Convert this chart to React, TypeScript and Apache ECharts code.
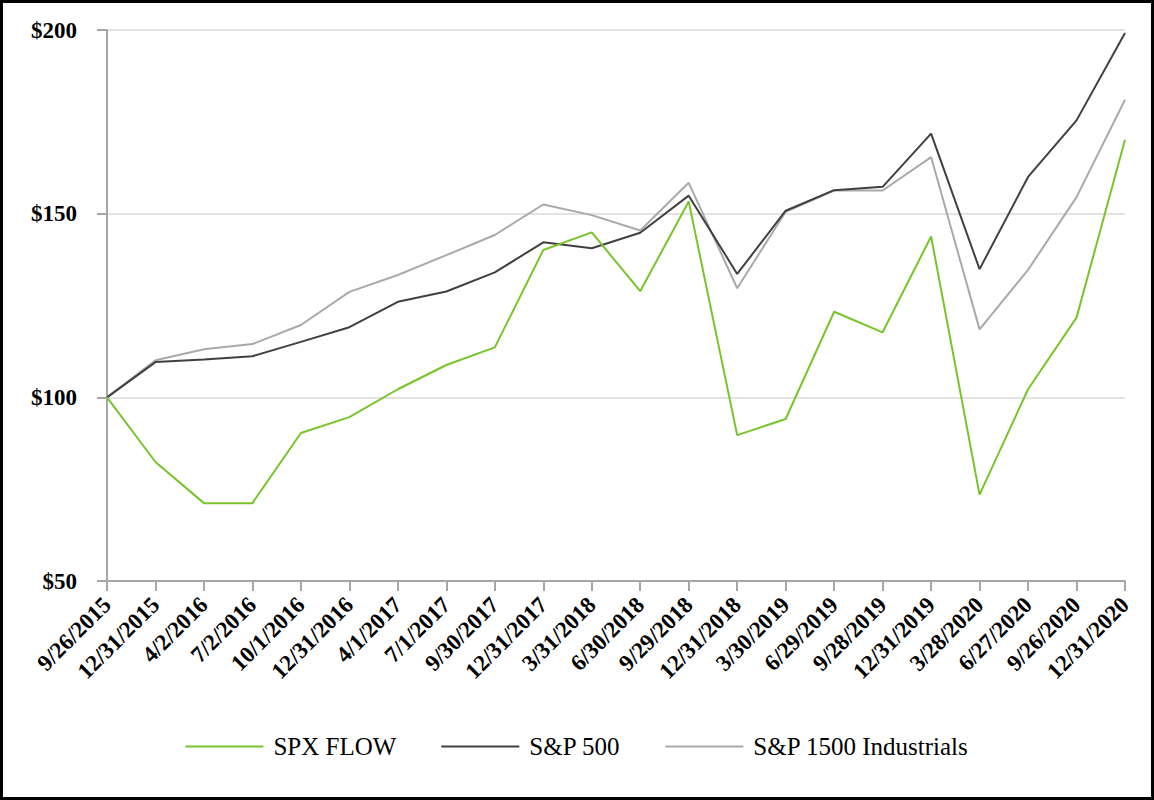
import React, { useEffect, useRef } from "react";
import * as echarts from "echarts";

const categories = [
  "9/26/2015", "12/31/2015", "4/2/2016", "7/2/2016", "10/1/2016", "12/31/2016",
  "4/1/2017", "7/1/2017", "9/30/2017", "12/31/2017", "3/31/2018", "6/30/2018",
  "9/29/2018", "12/31/2018", "3/30/2019", "6/29/2019", "9/28/2019", "12/31/2019",
  "3/28/2020", "6/27/2020", "9/26/2020", "12/31/2020",
];

const spxFlow = [
  100, 82.4, 71.2, 71.2, 90.3, 94.6, 102.2, 108.8, 113.6, 140.1, 144.9, 128.9,
  153.3, 89.7, 94.1, 123.3, 117.7, 143.8, 73.5, 102.2, 121.7, 170.1,
];

const sp500 = [
  100, 109.6, 110.3, 111.2, 115.1, 119.1, 126.0, 128.8, 134.0, 142.2, 140.6, 144.8,
  154.9, 133.6, 150.8, 156.4, 157.3, 171.8, 134.9, 160.0, 175.4, 199.2,
];

const sp1500Ind = [
  100, 110.1, 113.1, 114.5, 119.7, 128.7, 133.3, 138.7, 144.2, 152.5, 149.6, 145.4,
  158.4, 129.7, 150.5, 156.3, 156.3, 165.4, 118.5, 134.7, 154.5, 181.0,
];

const yTicks = [50, 100, 150, 200];

const FONT = "'Liberation Serif', 'Times New Roman', serif";

export default function App() {
  const ref = useRef<HTMLDivElement>(null);

  useEffect(() => {
    if (!ref.current) return;
    const chart = echarts.init(ref.current, undefined, { renderer: "svg" });
    chart.setOption({
      animation: false,
      backgroundColor: "#ffffff",
      grid: { left: 107, right: 29, top: 30, bottom: 219, containLabel: false },
      legend: {
        left: "center",
        top: 729,
        itemWidth: 78,
        itemHeight: 14,
        itemGap: 45,
        icon: "path://M0,6 L78,6 L78,8 L0,8 Z",
        textStyle: { fontFamily: FONT, fontSize: 25, color: "#000", padding: [0, 0, 0, 5] },
        data: ["SPX FLOW", "S&P 500", "S&P 1500 Industrials"],
      },
      xAxis: {
        type: "category",
        data: categories,
        boundaryGap: false,
        axisLine: { lineStyle: { color: "#a6a6a6", width: 2 } },
        axisTick: { show: true, length: 10, lineStyle: { color: "#a6a6a6", width: 2 }, alignWithLabel: true },
        axisLabel: {
          rotate: 45,
          interval: 0,
          margin: 20,
          fontFamily: FONT,
          fontWeight: "bold",
          fontSize: 23,
          color: "#000",
        },
        splitLine: { show: false },
      },
      yAxis: {
        type: "value",
        min: 50,
        max: 200,
        interval: 50,
        axisLine: { show: true, lineStyle: { color: "#a6a6a6", width: 2 } },
        axisTick: { show: true, length: 10, lineStyle: { color: "#a6a6a6", width: 2 } },
        axisLabel: {
          margin: 30,
          fontFamily: FONT,
          fontWeight: "bold",
          fontSize: 23,
          color: "#000",
          formatter: (v: number) => (yTicks.includes(v) ? "$" + v : ""),
        },
        splitLine: { show: true, lineStyle: { color: "#e3e3e3", width: 2 } },
      },
      series: [
        {
          name: "S&P 1500 Industrials",
          type: "line",
          data: sp1500Ind,
          symbol: "none",
          lineStyle: { color: "#a9a9a9", width: 2 },
          itemStyle: { color: "#a9a9a9" },
          z: 2,
        },
        {
          name: "S&P 500",
          type: "line",
          data: sp500,
          symbol: "none",
          lineStyle: { color: "#404040", width: 2 },
          itemStyle: { color: "#404040" },
          z: 3,
        },
        {
          name: "SPX FLOW",
          type: "line",
          data: spxFlow,
          symbol: "none",
          lineStyle: { color: "#78c42b", width: 2 },
          itemStyle: { color: "#78c42b" },
          z: 4,
        },
      ],
    });
    return () => chart.dispose();
  }, []);

  return (
    <div style={{ position: "fixed", left: 0, top: 0, width: 1154, height: 800, background: "#fff" }}>
      <div ref={ref} style={{ position: "absolute", left: 0, top: 0, width: 1154, height: 800 }} />
      <div
        style={{
          position: "absolute",
          left: 0,
          top: 0,
          width: 1154,
          height: 800,
          border: "3px solid #000",
          boxSizing: "border-box",
          pointerEvents: "none",
        }}
      />
    </div>
  );
}
